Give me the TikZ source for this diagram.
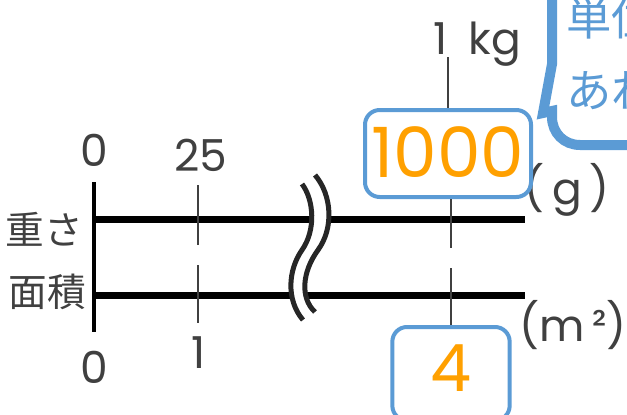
\documentclass[tikz,border=0pt]{standalone}
\usepackage{fontspec}
\setmainfont{Noto Sans CJK JP}
\newfontfamily\numfont{Poppins}
\definecolor{txtgray}{RGB}{64,64,64}
\definecolor{boxblue}{RGB}{91,155,213}
\definecolor{numorange}{RGB}{255,160,0}
\tikzset{every picture/.style={line width=0.75pt}}
\tikzset{
  lbl/.style={text=txtgray, inner sep=0.75pt, font=\numfont\fontsize{33}{33}\selectfont},
  jlbl/.style={text=txtgray, inner sep=0.75pt, font=\fontsize{29}{29}\selectfont},
  tickline/.style={draw=txtgray, line width=1.1pt},
  barline/.style={draw=black, line width=5.25pt},
  valbox/.style={draw=boxblue, line width=3pt, rounded corners=11pt, text=numorange, inner xsep=0pt, inner ysep=0pt, anchor=base},
  breakline/.style={draw=black!85, line width=3.75pt},
  notetext/.style={text=boxblue, anchor=west, inner sep=0pt, font=\fontsize{34}{34}\selectfont},
}

\begin{document}
\begin{tikzpicture}[x=0.75pt,y=0.75pt,yscale=-1,xscale=1]
    \useasboundingbox (0,0) rectangle (627,414);
    \clip (0,0) rectangle (627,414);

    % Coordinates
    \coordinate (axT) at (94,182);
    \coordinate (axB) at (94,332);
    \coordinate (wS) at (94,219);
    \coordinate (wE) at (525,219);
    \coordinate (aS) at (94,295);
    \coordinate (aE) at (525,295);
    \coordinate (tA1) at (198,185);
    \coordinate (tA2) at (198,245);
    \coordinate (tA3) at (198,265);
    \coordinate (tA4) at (198,323);
    \coordinate (tB0) at (448,57);
    \coordinate (tB1) at (451,248);
    \coordinate (tB2) at (451,268);

    %Straight Lines
    \draw[barline] (wS) -- (wE);
    %Straight Lines
    \draw[barline] (aS) -- (aE);
    %Straight Lines
    \draw[line width=3pt] (axT) -- (axB);
    %Straight Lines
    \draw[tickline] (tA1) -- (tA2) (tA3) -- (tA4);

    %Break mark
    \fill[white] (302,184) .. controls (314,200) and (316,230) .. (302,250) .. controls (288,270) and (286,300) .. (303,320)
        -- (315,312) .. controls (300,298) and (302,272) .. (318,250) .. controls (334,228) and (332,195) .. (315,175) -- cycle;
    \draw[breakline] (302,184) .. controls (314,200) and (316,230) .. (302,250) .. controls (288,270) and (286,300) .. (303,320);
    \draw[breakline] (315,175) .. controls (332,195) and (334,228) .. (318,250) .. controls (302,272) and (300,298) .. (315,312);

    % Text Node
    \node[lbl] (zeroW) at (94,150) {0};
    % Text Node
    \node[lbl] (q25) at (201,155) {25};
    % Text Node
    \node[lbl] (zeroA) at (94,367) {0};
    % Text Node
    \node[lbl] (oneA) at (199,353) {1};
    % Text Node
    \node[jlbl] (jw) at (44,229) {重さ};
    % Text Node
    \node[jlbl] (ja) at (47,292) {面積};
    % Text Node
    \node[lbl, anchor=base west] (kg) at (432,54) {1\hspace{16pt}kg};
    % Text Node
    \node[lbl] (ug) at (567,190) {(\,g\,)};
    % Text Node
    \node[lbl] (um) at (573,325) {(m\,²)};

    % Value boxes
    \node[valbox, minimum width=124.5pt, text height=50.25pt, text depth=15pt, font=\numfont\fontsize{52}{52}\selectfont] (g1000) at (448,177) {1000};
    \node[valbox, minimum width=88pt, text height=48pt, text depth=22pt, font=\numfont\fontsize{49}{49}\selectfont] (m4) at (451,391) {4};

    %Straight Lines
    \draw[tickline] (tB0) -- (tB0 |- g1000.north);
    \draw[tickline] (tB1 |- g1000.south) -- (tB1);
    \draw[tickline] (tB2) -- (tB2 |- m4.north);

    %Callout
    \draw[draw=boxblue, line width=7.5pt, fill=white] (552,-20) -- (552,64) -- (543,113) -- (552,111) -- (552,117)
        .. controls (552,133) and (564,145) .. (580,145) -- (700,145) -- (700,-20) -- cycle;
    % Text Node
    \node[notetext] (note1) at (566,18) {単位};
    % Text Node
    \node[notetext] (note2) at (566,91) {あれ};

\end{tikzpicture}
\end{document}
